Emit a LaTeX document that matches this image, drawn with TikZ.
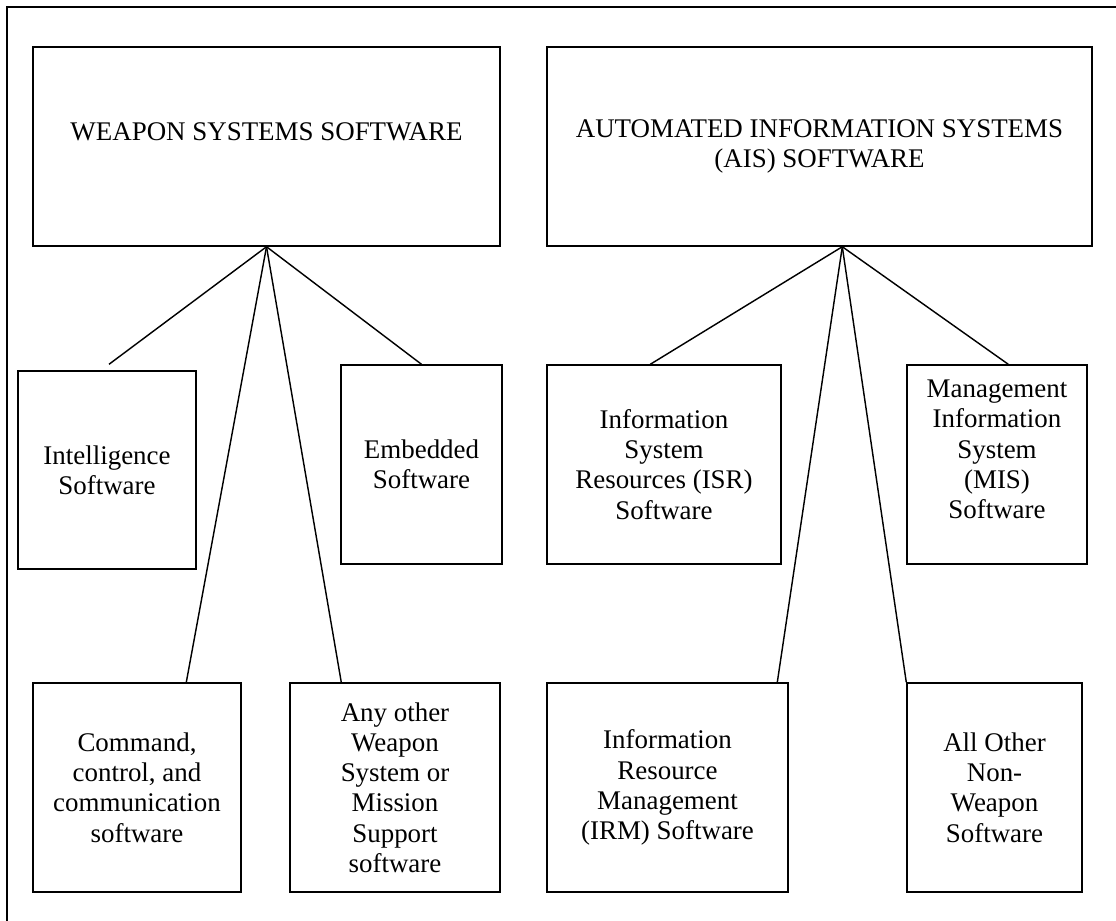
\documentclass[tikz,border=0pt]{standalone}
\usepackage{fontspec}
\setmainfont{Liberation Serif}
\usetikzlibrary{calc}
\newcommand{\pxs}{0.453pt}

\begin{document}
\begin{tikzpicture}[
    x=0.453pt, y=-0.453pt,
    line width=0.65pt,
    font=\fontsize{12.2}{13.7}\selectfont,
    catbox/.style 2 args={draw, align=center, inner sep=1pt,
        minimum width=#1*\pxs, minimum height=#2*\pxs}
]
    \useasboundingbox (0,0) rectangle (1116,920);

    % Outer frame (runs off the page right and bottom)
    \draw (7,7) rectangle (1140,940);

    % Top categories
    \node[catbox={467}{199}] (ws) at (266.5,146.5) {WEAPON SYSTEMS SOFTWARE\\ \mbox{}};
    \node[catbox={545}{199}] (ais) at (819.5,146.5) {AUTOMATED INFORMATION SYSTEMS\\(AIS) SOFTWARE};

    % Weapon systems side
    \node[catbox={178}{198}] (intel) at (107,470) {Intelligence\\Software};
    \node[catbox={161}{199}] (embed) at (421.5,464.5) {Embedded\\Software};
    \node[catbox={208}{209}] (cmd) at (137,787.5) {Command,\\control, and\\communication\\software};
    \node[catbox={210}{209}] (other) at (395,787.5) {Any other\\Weapon\\System or\\Mission\\Support\\software};

    % AIS side
    \node[catbox={234}{199}] (isr) at (664,464.5) {Information\\System\\Resources (ISR)\\Software};
    \node[catbox={180}{199}] (mis) at (997,464.5) {Management\\Information\\System\\(MIS)\\Software\\ \mbox{}};
    \node[catbox={241}{209}] (irm) at (667.5,787.5) {Information\\Resource\\Management\\(IRM) Software};
    \node[catbox={175}{209}] (nonw) at (994.5,787.5) {All Other\\Non-\\Weapon\\Software};

    % Connections from weapon systems
    \draw (ws.south) -- ($(intel.north)+(2,-6)$);
    \draw (ws.south) -- (embed.north);
    \draw (ws.south) -- ($(cmd.north west)+(154,0)$);
    \draw (ws.south) -- ($(other.north west)+(52,0)$);

    % Connections from AIS
    \coordinate (aisroot) at ($(ais.south west)+(296,0)$);
    \draw (aisroot) -- ($(isr.north west)+(104,0)$);
    \draw (aisroot) -- ($(mis.north west)+(102,0)$);
    \draw (aisroot) -- ($(irm.north west)+(231,0)$);
    \draw (aisroot) -- (nonw.north west);

\end{tikzpicture}
\end{document}
